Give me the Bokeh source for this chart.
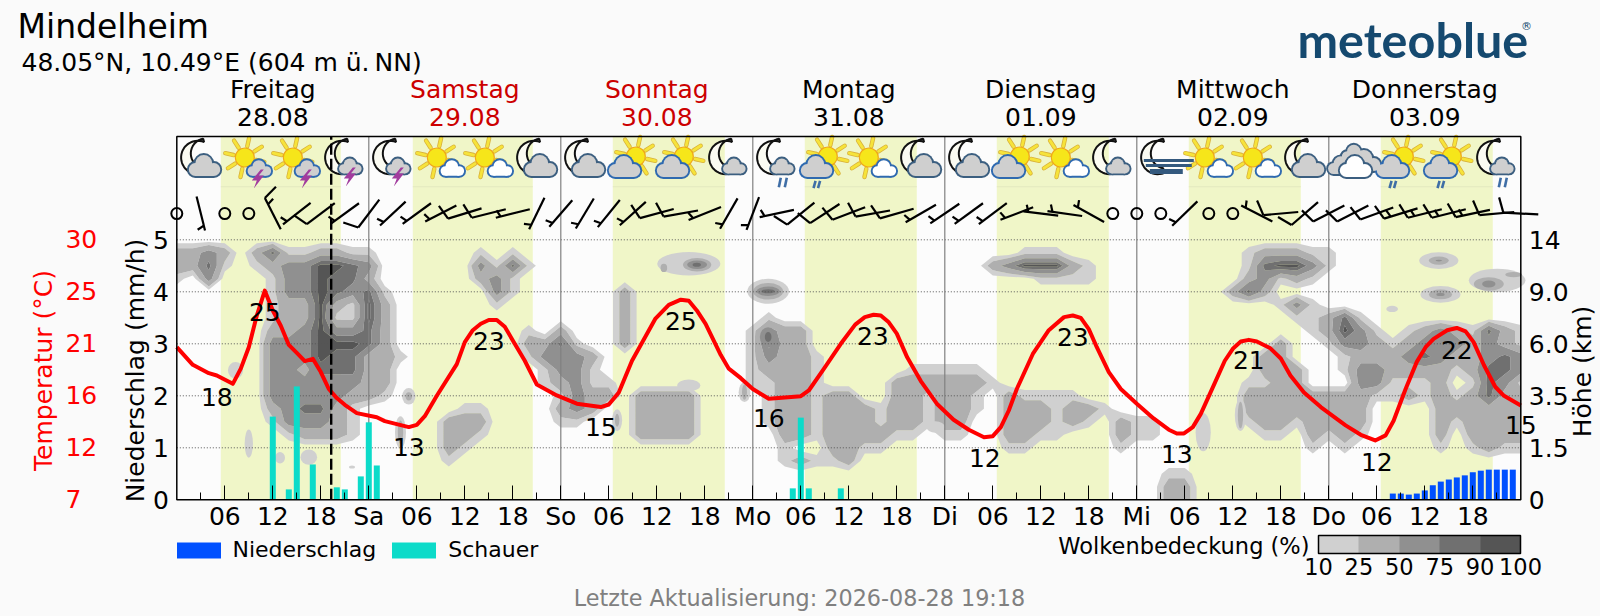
import math
import numpy as np
from bokeh.plotting import figure
from bokeh.embed import file_html
from bokeh.resources import INLINE
from bokeh.core.properties import value
from bokeh.models import (Range1d, LinearAxis, FixedTicker, Label, LabelSet, ColumnDataSource,
                          Legend, LegendItem, ColorBar, LinearColorMapper, AllLabels)

# ---------- data ----------
title = "Mindelheim"
subtitle = "48.05°N, 10.49°E (604 m ü.\u202fNN)"
update_text = "Letzte Aktualisierung: 2026-08-28 19:18"
day_names = ["Freitag", "Samstag", "Sonntag", "Montag", "Dienstag", "Mittwoch", "Donnerstag"]
day_dates = ["28.08", "29.08", "30.08", "31.08", "01.09", "02.09", "03.09"]
day_colors = ["black", "#cc0000", "#cc0000", "black", "black", "black", "black"]
day_short = ["Sa", "So", "Mo", "Di", "Mi", "Do"]
now_hour = 19.3

band_start = [5.5, 29.5, 54.5, 78.5, 102.5, 126.5, 150.5]
band_end = [20.5, 44.5, 68.5, 92.5, 116.5, 140.5, 164.5]

temp_hours = [0, 2, 4, 5, 7, 8, 9, 10, 11, 12, 13, 14, 15, 16, 17, 18, 19, 20, 21, 22.5, 25, 26, 29, 30, 31, 32.5, 35, 36,
              37, 38, 39, 40, 41, 42, 43.5, 45, 47.5, 50, 53, 54, 55.25, 56.9, 59.8, 61.5, 63, 64, 65, 66.1, 68, 69, 70.5,
              72, 74, 78, 79, 80.9, 83, 84.8, 86, 87.1, 88, 89, 90, 91.3, 93, 95, 97.1, 99, 100.9, 102, 103, 104, 105,
              107, 109, 110.9, 112, 113, 114, 115, 116.5, 118, 120, 122.1, 124, 125, 125.9, 127, 128, 129.6, 131, 132,
              133, 134, 135, 136.7, 138, 139.2, 140.9, 143, 146.1, 148, 149.8, 151.1, 152.1, 153.6, 155, 156.1, 157.1,
              158.8, 160, 161.1, 162.1, 163.4, 164.8, 165.9, 168]
temp_values = [20.5, 18.94, 18.2, 18.0, 17.26, 18.6, 20.5, 23.3, 25.5, 23.75, 22.4, 20.7, 20.0, 19.27, 19.47, 18.3, 16.8,
               16.0, 15.4, 14.67, 14.3, 13.96, 13.43, 13.63, 14.4, 16.2, 19.0, 20.95, 22.0, 22.57, 22.9, 22.9, 22.3, 21.1,
               19.3, 17.2, 16.23, 15.5, 15.2, 15.43, 16.5, 19.3, 23.0, 24.25, 24.7, 24.6, 23.75, 22.57, 19.8, 18.6, 17.76,
               16.8, 15.94, 16.17, 16.67, 18.6, 20.8, 22.5, 23.16, 23.37, 23.3, 22.7, 21.7, 19.6, 17.5, 15.5, 14.08, 13.2,
               12.54, 12.63, 13.43, 14.9, 16.8, 19.9, 22.0, 23.16, 23.3, 23.1, 22.1, 20.5, 18.3, 16.8, 15.5, 14.2, 13.2,
               12.87, 12.87, 13.43, 14.6, 17.1, 19.3, 20.36, 21.0, 21.15, 21.0, 20.4, 19.5, 18.0, 16.5, 15.2, 13.58, 12.75,
               12.25, 12.7, 14.0, 16.8, 19.2, 20.5, 21.24, 22.0, 22.2, 21.9, 20.95, 18.9, 17.0, 16.2, 15.35]

label_hours = [5, 11, 29, 39, 53, 63, 74, 87, 101, 112, 125, 134, 150, 160, 168]
label_level = [1.97, 3.62, 1.01, 3.05, 1.40, 3.43, 1.57, 3.15, 0.81, 3.13, 0.89, 2.68, 0.72, 2.89, 1.43]
label_texts = ["18", "25", "13", "23", "15", "25", "16", "23", "12", "23", "13", "21", "12", "22", "15"]

shower_hours = [12, 14, 15, 17, 20, 21, 23, 24, 25, 77, 78, 79, 83]
shower_mm = [1.6, 0.2, 2.18, 0.68, 0.24, 0.2, 0.45, 1.49, 0.66, 0.22, 1.58, 0.22, 0.22]
rain_hours = [152, 153, 154, 155, 156, 157, 158, 159, 160, 161, 162, 163, 164, 165, 166, 167]
rain_mm = [0.12, 0.12, 0.10, 0.12, 0.18, 0.28, 0.35, 0.39, 0.43, 0.47, 0.53, 0.56, 0.58, 0.58, 0.58, 0.58]

wind_dir = [0, 166, 0, 0, 333, 232, 233, 234, 217, 227, 234, 243, 253, 256, 256, 206, 221, 211, 219, 228, 255, 260, 248,
            210, 201, 258, 231, 237, 249, 260, 254, 240, 236, 234, 233, 249, 277, 278, 299, 0, 0, 0, 226, 0, 0, 297, 265,
            229, 243, 243, 250, 253, 256, 256, 258, 265, 273]
wind_barbs = [0, 1, 0, 0, 3, 1, 2, 1, 2, 1, 1, 1, 2, 2, 1, 1, 1, 1, 1, 1, 2, 2, 1, 1, 1, 1, 2, 2, 2, 2, 2, 1, 1, 1, 1, 1, 1,
              1, 1, 0, 0, 0, 1, 0, 0, 1, 2, 2, 2, 2, 2, 3, 3, 3, 3, 2, 2]

icons = ["Mg", "Sst", "Sst", "Mst", "Mst", "Sw", "Sw", "Mg", "Mg", "Sb", "Sb", "Ms",
         "Msr", "Sbr", "Sw", "Mg", "Mg", "Sb", "Sw", "Ms", "Mf", "Sw", "Sw", "Mg",
         "c", "Sbr", "Sbr", "Msr"]

cloud_levels = [10, 25, 50, 75, 90, 100]
cloud_colors = ["#d0d0d0", "#afafaf", "#909090", "#707070", "#555555"]
cloud_digit_percent = [0, 18, 38, 62, 82, 96]
cloud_segments = [
    (19, 0, "2232024112211"), (19, 19, "101"), (19, 53, "111"), (19, 67, "122211"),
    (18, 0, "2241012335543"), (18, 19, "3141"), (18, 51, "2355521"), (18, 67, "145531"),
    (17, 0, "1030001335442"), (17, 19, "231"), (17, 54, "1111"), (17, 67, "23121"),
    (16, 6, "13354341"), (16, 20, "31"), (16, 28, "2"), (16, 66, "242"),
    (15, 6, "12252152"), (15, 20, "1"), (15, 28, "2"), (15, 69, "131"),
    (14, 6, "12251152"), (14, 28, "2"), (14, 37, "1"), (14, 70, "11241"),
    (13, 6, "22353342"), (13, 22, "1"), (13, 24, "2"), (13, 28, "2"), (13, 36, "1322"), (13, 71, "12531"),
    (13, 77, "12321421"),
    (12, 6, "33355542"), (12, 22, "2241"), (12, 28, "2"), (12, 36, "1422"), (12, 69, "2"), (12, 72, "1332123332321"),
    (11, 6, "333544221"), (11, 22, "13332"), (11, 36, "13221"), (11, 68, "22"), (11, 73, "122234322343"),
    (10, 6, "33244422"), (10, 23, "1331"), (10, 36, "12221"), (10, 46, "11111"), (10, 68, "222"),
    (10, 73, "133222212443"),
    (9, 6, "33333322"), (9, 23, "12311"), (9, 36, "11221"), (9, 45, "2222221"), (9, 67, "1122"), (9, 74, "33111201431"),
    (8, 6, "33333221"), (8, 24, "1322"), (8, 29, "2222"), (8, 37, "1221"), (8, 41, "22"), (8, 45, "221221"),
    (8, 52, "21111"), (8, 67, "2222"), (8, 71, "22221121212422"),
    (7, 6, "234421"), (7, 18, "11"), (7, 24, "232"), (7, 29, "2222"), (7, 37, "1221"), (7, 41, "2221"), (7, 45, "221221"),
    (7, 52, "2221221"), (7, 67, "22222222"), (7, 79, "222222"),
    (6, 6, "133321"), (6, 17, "222"), (6, 24, "11"), (6, 29, "2222"), (6, 37, "1221"), (6, 41, "2221"), (6, 45, "22122"),
    (6, 52, "2221210211"), (6, 67, "12212222"), (6, 79, "212222"),
    (5, 7, "12221"), (5, 17, "221"), (5, 29, "2222"), (5, 38, "221"), (5, 41, "22221"), (5, 46, "1"), (5, 48, "11"),
    (5, 52, "2211"), (5, 59, "211"), (5, 68, "11"), (5, 71, "2121"), (5, 79, "202222"),
    (4, 17, "21"), (4, 38, "1"), (4, 41, "2211"), (4, 52, "11"), (4, 59, "1"), (4, 71, "1"), (4, 73, "1"), (4, 79, "101211"),
    (3, 17, "1"), (3, 38, "12112"),
    (2, 62, "11"), (1, 62, "22"), (0, 62, "22"),
]
cloud_spots = [
    (7.34, 2.49, 1.9, .32, 1), (9.0, 1.08, 1.04, .54, 1), (12.9, .81, 1.25, .22, 1), (16.5, .82, 2.08, .29, 1),
    (21.9, .63, .75, .06, 1), (29.0, 1.99, 1.67, .32, 1), (29.0, 1.99, .8, .16, 2), (27.96, 1.3, 1.38, .61, 1),
    (27.96, 1.3, .67, .45, 2), (55.04, 1.53, 1.25, .42, 1), (55.04, 1.53, .55, .25, 2), (64.0, 4.54, 7.9, .45, 1),
    (65.04, 4.52, 3.54, .26, 2), (65.04, 4.52, 2.5, .16, 3), (65.0, 4.52, 1.04, .08, 4), (60.88, 4.46, .83, .16, 2),
    (64.0, 2.2, 2.9, .23, 1), (73.92, 4.01, 5.2, .48, 1), (73.92, 4.01, 3.75, .32, 2), (73.92, 4.01, 2.9, .18, 3),
    (73.92, 4.01, 1.67, .08, 4), (70.96, 2.07, 1.46, .38, 1), (70.96, 2.07, .62, .29, 2), (73.92, 3.13, 2.08, .38, 3),
    (73.92, 3.13, .83, .19, 4), (94.84, 1.4, 2.3, .22, 1), (128.3, 1.3, 1.9, .74, 1), (132.96, 1.63, 1.42, .61, 1),
    (132.96, 1.63, .67, .51, 2), (157.75, 4.6, 4.9, .32, 1), (157.75, 4.6, 2.5, .16, 2), (157.75, 4.6, .83, .03, 3),
    (157.96, 3.95, 5.0, .32, 1), (157.96, 3.95, 2.9, .19, 2), (157.96, 3.95, 1.04, .06, 3), (151.92, 3.67, 1.46, .12, 1),
    (165.04, 4.22, 7.08, .45, 1), (164.0, 4.15, 3.75, .26, 2), (164.0, 4.15, 1.67, .13, 3), (167.1, 4.33, 2.08, .1, 2),
]
colorbar_ticks = ["10", "25", "50", "75", "90", "100"]
precip_ticks = [0, 1, 2, 3, 4, 5]
temp_ticks = [7, 11.6, 16.2, 20.8, 25.4, 30]
temp_tick_labels = ["7\u2007", "12", "16", "21", "25", "30"]
height_tick_labels = ["0", "1.5", "3.5", "6.0", "9.0", "14"]

# ---------- page geometry: one frame over the whole page; the chart box lies inside it ----------
FONT = "DejaVu Sans"
W, H = 1600, 616
PX_H, PX_U = 8.0, 52.0
ORIGIN_X, ORIGIN_Y = 176.3, 499.3
TOP_U = (ORIGIN_Y - 136) / PX_U
x_min, x_max = -ORIGIN_X / PX_H, (W - ORIGIN_X) / PX_H
y_min, y_max = (ORIGIN_Y - H) / PX_U, ORIGIN_Y / PX_U

p = figure(width=W, height=H, x_range=Range1d(x_min, x_max), y_range=Range1d(y_min, y_max),
           output_backend="svg", toolbar_location=None, min_border=0,
           background_fill_color="#fafafa", border_fill_color="#fafafa", outline_line_color=None)
p.extra_y_ranges = {"temp": Range1d(7 + 4.6 * y_min, 7 + 4.6 * y_max)}
p.xgrid.visible = False
p.ygrid.visible = False

# x axis
ax = p.xaxis[0]
ax.fixed_location = 0
major = [h for h in range(6, 168, 6)]
ax.ticker = FixedTicker(ticks=major, minor_ticks=[h for h in range(3, 168, 6)])
overrides = {h: f"{h % 24:02d}" for h in major if h % 24}
for i, s in enumerate(day_short):
    overrides[24 * (i + 1)] = s
ax.major_label_overrides = overrides
ax.major_tick_in, ax.major_tick_out = 14, 0
ax.minor_tick_in, ax.minor_tick_out = 7, 0
ax.major_tick_line_color = "black"
ax.minor_tick_line_color = "black"
ax.major_label_text_font = FONT
ax.major_label_text_font_size = "25px"
ax.major_label_text_color = "black"
ax.major_label_standoff = 2
ax.axis_line_color = None

# precipitation axis
ay = p.yaxis[0]
ay.fixed_location = 0
ay.ticker = FixedTicker(ticks=precip_ticks)
ay.major_tick_line_color = None
ay.minor_tick_line_color = None
ay.major_label_text_font = FONT
ay.major_label_text_font_size = "25px"
ay.major_label_text_color = "black"
ay.major_label_standoff = 2
ay.axis_line_color = None

# temperature axis
at = LinearAxis(y_range_name="temp", fixed_location=-8.45, ticker=FixedTicker(ticks=temp_ticks),
                major_label_overrides=dict(zip(temp_ticks, temp_tick_labels)),
                major_label_text_color="#ff0000", major_label_text_font=FONT, major_label_text_font_size="25px",
                major_tick_line_color=None, minor_tick_line_color=None, axis_line_color=None, major_label_standoff=6)
p.add_layout(at, "left")

# height axis
ar = LinearAxis(fixed_location=168, ticker=FixedTicker(ticks=precip_ticks),
                major_label_overrides=dict(zip(precip_ticks, height_tick_labels)),
                major_label_text_font=FONT, major_label_text_font_size="25px", major_label_text_color="black",
                major_tick_line_color=None, minor_tick_line_color=None, major_label_standoff=2, axis_line_color=None)
p.add_layout(ar, "right")

# plot box and day bands
p.quad(left=[0], right=[168], bottom=[0], top=[TOP_U], fill_color="#fcfcfc", line_color=None, level="image")
p.quad(left=band_start, right=band_end, bottom=0, top=TOP_U, fill_color="#f0f6c8", line_color=None, level="image")
p.segment(x0=band_start, x1=band_end, y0=6.02, y1=6.02, line_color="#e3e8bf", line_width=1, level="image")

# clouds
grid = np.zeros((22, 85))
for row, col, digits in cloud_segments:
    for i, d in enumerate(digits):
        grid[row, col + i] = cloud_digit_percent[int(d)]
cr = p.contour(np.arange(85) * 2.0, np.arange(22) * 0.25, grid, levels=cloud_levels,
               fill_color=cloud_colors, line_color=None)
cr.level = "image"
for lvl in range(1, 6):
    spots = [s for s in cloud_spots if s[4] == lvl]
    if spots:
        p.ellipse(x=[s[0] for s in spots], y=[s[1] for s in spots], width=[s[2] for s in spots],
                  height=[s[3] for s in spots], fill_color=cloud_colors[lvl - 1], line_color=None, level="image")

# grid lines and day separators
p.segment(x0=0, x1=168, y0=[1, 2, 3, 4, 5], y1=[1, 2, 3, 4, 5], line_color="#555555", line_dash="1 2", line_width=1,
          level="underlay")
p.segment(x0=[24 * i for i in range(1, 7)], x1=[24 * i for i in range(1, 7)], y0=0, y1=TOP_U,
          line_color="#808080", line_width=1.2, level="underlay")

# bars
rain_r = p.vbar(x=rain_hours, top=rain_mm, width=0.75, fill_color="#0050ff", line_color=None)
show_r = p.vbar(x=shower_hours, top=shower_mm, width=0.75, fill_color="#0cdbc9", line_color=None)

# temperature
p.line(temp_hours, temp_values, y_range_name="temp", line_color="#ff0000", line_width=4, line_join="round")

# wind barbs
segx, segy = [], []


def add_seg(h, dx0, dy0, dx1, dy1):
    segx.append([h + dx0 / PX_H, h + dx1 / PX_H])
    segy.append([WIND_U - dy0 / PX_U, WIND_U - dy1 / PX_U])


WIND_U = 5.505
ring_x, ring_y = [], []
for k, (d, n) in enumerate(zip(wind_dir, wind_barbs)):
    h = 3.0 * k
    if n == 0:
        ring_x.append(h)
        ring_y.append(WIND_U)
        continue
    b = math.radians(d)
    ex, ey = math.sin(b), -math.cos(b)
    nx, ny = -ey, ex
    add_seg(h, -17.5 * ex, -17.5 * ey, 17.5 * ex, 17.5 * ey)
    tipx, tipy = 17.5 * ex, 17.5 * ey
    if n == 1:
        bx, by = tipx - 5 * ex, tipy - 5 * ey
        add_seg(h, bx, by, bx + 2.5 * ex + 7 * nx, by + 2.5 * ey + 7 * ny)
    else:
        add_seg(h, tipx, tipy, tipx + 5 * ex + 15 * nx, tipy + 5 * ey + 15 * ny)
        if n == 3:
            bx, by = tipx - 7 * ex, tipy - 7 * ey
            add_seg(h, bx, by, bx + 2.5 * ex + 7 * nx, by + 2.5 * ey + 7 * ny)
p.multi_line(xs=segx, ys=segy, line_color="black", line_width=2.2)
p.scatter(ring_x, ring_y, marker="circle", size=11, fill_color=None, line_color="black", line_width=2)

# ---------- weather icons ----------
ICON_U = (ORIGIN_Y - 158) / PX_U
L = {k: [] for k in ["o0", "f0", "o1", "f1"]}
rects = {k: [] for k in ["o0", "f0", "o1", "f1"]}
rays, discs, moons, bolts, rains, fogs = [], [], [], [], [], []


def X(h, dx):
    return h + dx / PX_H


def Y(dy):
    return ICON_U - dy / PX_U


def cloud(h, cx, cy, s, fill, edge, layer=0):
    lobes = [(-8.5, 6, 6.7), (0, 0, 8.7), (10, 6, 6.7)]
    for dx, dy, r in lobes:
        L[f"o{layer}"].append((X(h, cx + s * dx), Y(cy + s * dy), 2 * r * s + 3.4, edge))
        L[f"f{layer}"].append((X(h, cx + s * dx), Y(cy + s * dy), 2 * r * s - 0.4, fill))
    x0, x1, y0, y1 = cx - 8.5 * s, cx + 10 * s, cy + 3 * s, cy + 12.7 * s
    rects[f"o{layer}"].append((X(h, x0), X(h, x1), Y(y0), Y(y1 + 1.7), edge))
    rects[f"f{layer}"].append((X(h, x0), X(h, x1), Y(y0), Y(y1 - 0.2), fill))


def moon(h, cx, cy):
    a = np.radians(np.linspace(-68, -292, 30))
    xs = [cx + 16.7 * math.cos(t) for t in a]
    ys = [cy + 16.7 * math.sin(t) for t in a]
    b = np.radians(np.linspace(100, 260, 20))
    xs2 = [cx + 8 + 15 * math.cos(t) for t in b]
    ys2 = [cy - 4 + 15 * math.sin(t) for t in b]
    moons.append(([X(h, v) for v in xs + xs2], [Y(v) for v in ys + ys2]))


def sun(h, cx, cy):
    for i in range(8):
        t = math.radians(22.5 + 45 * i - 10)
        rays.append(([X(h, cx + 11.5 * math.cos(t)), X(h, cx + 20 * math.cos(t))],
                     [Y(cy + 11.5 * math.sin(t)), Y(cy + 20 * math.sin(t))]))
    discs.append((X(h, cx), Y(cy)))


def bolt(h, cx, cy):
    shape = [(3, -9), (-6, 2), (-1, 2), (-4, 10), (6, -3), (1, -3), (6, -9)]
    bolts.append(([X(h, cx + a) for a, _ in shape], [Y(cy + b) for _, b in shape]))


def rain(h, cx, cy, w):
    for o in (-2.5, 2.5):
        rains.append(([X(h, cx + o * w + 1), X(h, cx + o * w - 1)], [Y(cy - 4 * w), Y(cy + 4 * w)]))


GREY, STEEL, BLUE = "#cfcfcf", "#3c5f80", "#2f6ab0"
for k, code in enumerate(icons):
    h = 3 + 6 * k
    if code == "c":
        cloud(h, -12, 5, 0.85, GREY, STEEL)
        cloud(h, 11, 0, 1.0, GREY, STEEL)
        cloud(h, 1, -7, 0.8, GREY, STEEL)
        cloud(h, 2, 6, 1.0, "#ffffff", STEEL, 1)
        continue
    if code[0] == "M":
        moon(h, -3, -1)
        if code[1] == "g":
            cloud(h, 3, 5, 1.0, GREY, STEEL)
        elif code[1] == "s":
            cloud(h, 5, 6, 0.72, GREY, STEEL)
            if "t" in code:
                bolt(h, 5, 18)
            if "r" in code:
                rain(h, 6, 24, 1.2)
        elif code[1] == "f":
            fogs.append(([X(h, -17), X(h, 33)], [Y(2), Y(2)], 3))
            fogs.append(([X(h, -15), X(h, 31)], [Y(7), Y(7)], 3))
            fogs.append(([X(h, -11), X(h, 22)], [Y(13), Y(13)], 5))
    else:
        if code[1] == "b":
            sun(h, 3, -2)
            cloud(h, -9, 6, 1.0, GREY, BLUE)
            if "r" in code:
                rain(h, -8, 26, 0.9)
        else:
            sun(h, -4, -1)
            if code[1] == "w":
                cloud(h, 11, 8, 0.75, "#ffffff", BLUE)
            else:
                cloud(h, 10, 8, 0.75, GREY, BLUE)
                bolt(h, 9, 20)

p.patches(xs=[m[0] for m in moons], ys=[m[1] for m in moons], fill_color="#fbfbf2", line_color="#111111", line_width=2)
p.multi_line(xs=[r[0] for r in rays], ys=[r[1] for r in rays], line_color="#d9b23a", line_width=4.4, line_cap="round")
p.multi_line(xs=[r[0] for r in rays], ys=[r[1] for r in rays], line_color="#f6e33a", line_width=2.8, line_cap="round")
p.scatter(x=[d[0] for d in discs], y=[d[1] for d in discs], size=19, marker="circle", fill_color="#f6e61a",
          line_color="#f0a818", line_width=1.2)
for layer in (0, 1):
    for key in (f"o{layer}", f"f{layer}"):
        if L[key]:
            p.scatter(x=[v[0] for v in L[key]], y=[v[1] for v in L[key]], size=[v[2] for v in L[key]], marker="circle",
                      fill_color=[v[3] for v in L[key]], line_color=None)
            rr = rects[key]
            p.quad(left=[v[0] for v in rr], right=[v[1] for v in rr], top=[v[2] for v in rr], bottom=[v[3] for v in rr],
                   fill_color=[v[4] for v in rr], line_color=None)
p.patches(xs=[b[0] for b in bolts], ys=[b[1] for b in bolts], fill_color="#a23c9e", line_color=None)
p.multi_line(xs=[r[0] for r in rains], ys=[r[1] for r in rains], line_color="#3f6ea6", line_width=2.6)
for xs, ys, w in fogs:
    p.line(xs, ys, line_color="#34597e", line_width=w)

# chart box and now marker
p.quad(left=[0], right=[168], bottom=[0], top=[TOP_U], fill_color=None, line_color="black", line_width=1.5)
p.segment(x0=[now_hour], x1=[now_hour], y0=[0], y1=[TOP_U], line_color="black", line_width=2.4, line_dash="11 4")

# labels along the temperature curve
lab_src = ColumnDataSource(dict(x=label_hours, y=label_level, t=label_texts))
p.add_layout(LabelSet(x="x", y="y", text="t", source=lab_src, text_align="center", text_baseline="middle",
                      text_font=value(FONT), text_font_size="25px", text_color="black"))


# ---------- texts around the chart ----------
def lab(px, py, text, size, color="black", align="left", angle=0.0, font=FONT, style="normal"):
    p.add_layout(Label(x=px, y=H - py, x_units="screen", y_units="screen", text=text,
                       text_font=font, text_font_size=f"{size}px", text_color=color, text_align=align,
                       text_baseline="middle", angle=angle, text_font_style=style))


lab(17, 26, title, 33)
lab(21, 62, subtitle, 25)
for i in range(7):
    cx = ORIGIN_X + PX_H * (12 + 24 * i)
    lab(cx, 89, day_names[i], 25, day_colors[i], "center")
    lab(cx, 116, day_dates[i], 25, day_colors[i], "center")
lab(43, 370, "Temperatur (°C)", 25, "#ff0000", "center", math.pi / 2)
lab(135, 370, "Niederschlag (mm/h)", 25, "black", "center", math.pi / 2)
lab(1582, 371, "Höhe (km)", 25, "black", "center", math.pi / 2)
lab(1297, 38, "meteoblue", 48.5, "#15496f", "left", 0, "Lato", "bold")
lab(1526, 26, "®", 11, "#15496f", "center")
lab(1309, 545, "Wolkenbedeckung (%)", 22.5, "black", "right")
lab(799, 597, update_text, 22.3, "#808080", "center")

# legend
legend = Legend(items=[LegendItem(label="Niederschlag", renderers=[rain_r]), LegendItem(label="Schauer", renderers=[show_r])],
                orientation="horizontal", location=(170.5, H - 562), glyph_width=55, glyph_height=20, label_text_font=FONT,
                label_text_font_size="22px", label_text_color="black", border_line_color=None, background_fill_alpha=0,
                padding=0, margin=0, spacing=10, label_standoff=7)
p.add_layout(legend, "center")

# colour bar
mapper = LinearColorMapper(palette=cloud_colors, low=0, high=5)
cb = ColorBar(color_mapper=mapper, orientation="horizontal", width=202, height=18, location=(1318, H - 577),
              ticker=FixedTicker(ticks=[0, 1, 2, 3, 4, 5]), major_label_policy=AllLabels(),
              major_label_overrides=dict(zip(range(6), colorbar_ticks)), major_label_text_font=FONT,
              major_label_text_font_size="22.5px", major_label_text_color="black", major_tick_line_color=None,
              minor_tick_line_color=None, bar_line_color="black", bar_line_width=1.5, background_fill_alpha=0,
              border_line_color=None, padding=0, margin=0, label_standoff=4)
p.add_layout(cb, "center")

html = file_html(p, INLINE)
html = html.replace("<body>", '<body style="background:#fafafa;overflow:hidden">')
open("out.html", "w").write(html)
